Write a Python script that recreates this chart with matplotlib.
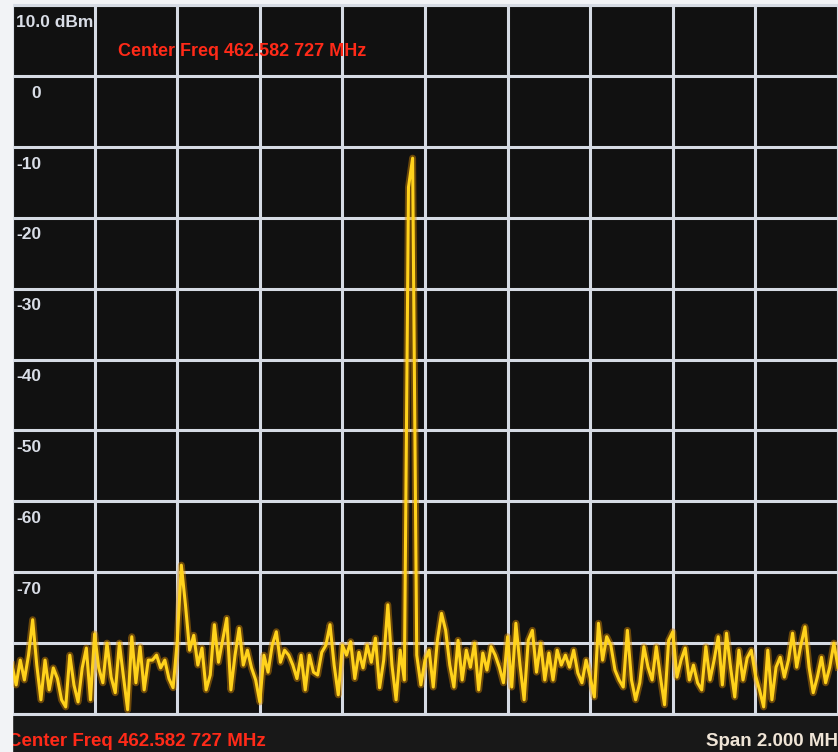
import numpy as np
import matplotlib
matplotlib.use("Agg")
from matplotlib import pyplot as plt
from matplotlib.patches import Rectangle

# analyzer settings
center_label = "Center Freq 462.582 727 MHz"
span_label = "Span 2.000 MHz"
ref_level = 10.0      # dBm, top of screen
db_per_div = 10.0
span_khz = 2000.0

# trace, dBm, one sample every 10 kHz from -1 MHz to +1 MHz
trace_dbm = [
    -83.1, -85.9, -82.4, -85.2, -81.7, -76.7, -83.1, -88.0, -82.4, -86.6,
    -83.5, -85.0, -88.0, -89.0, -81.7, -85.9, -88.3, -83.5, -80.7, -88.0,
    -78.7, -83.5, -85.6, -80.0, -84.8, -87.0, -80.0, -84.8, -89.4, -79.1,
    -85.6, -80.5, -86.6, -82.4, -82.4, -81.7, -83.5, -82.4, -85.0, -86.3,
    -79.8, -69.0, -74.6, -81.0, -78.9, -83.1, -80.7, -86.6, -84.5, -77.4,
    -82.7, -79.6, -76.5, -86.6, -81.7, -77.9, -83.1, -81.0, -83.5, -85.2,
    -88.3, -81.7, -84.1, -80.3, -78.4, -82.7, -81.0, -81.7, -83.1, -85.0,
    -81.7, -86.6, -81.7, -84.1, -84.5, -81.3, -80.3, -77.4, -83.1, -87.3,
    -80.3, -81.7, -79.8, -85.0, -81.3, -83.5, -80.3, -82.7, -79.3, -86.3,
    -82.4, -74.6, -83.1, -88.0, -81.0, -85.2, -15.7, -11.6, -81.7, -85.9,
    -82.4, -81.0, -86.2, -79.6, -75.8, -78.2, -83.1, -86.2, -79.6, -85.2,
    -81.0, -83.4, -80.0, -86.6, -81.4, -83.8, -80.5, -81.7, -83.4, -85.6,
    -79.1, -86.2, -77.2, -83.1, -88.0, -79.6, -78.2, -84.1, -80.0, -85.2,
    -81.4, -85.2, -81.0, -83.1, -81.7, -83.4, -81.0, -84.2, -85.6, -82.4,
    -84.8, -87.6, -77.2, -82.4, -79.1, -80.3, -83.8, -85.2, -86.2, -78.2,
    -85.2, -88.0, -85.6, -80.5, -83.4, -85.2, -80.5, -84.8, -88.7, -79.6,
    -78.4, -84.8, -82.4, -80.7, -85.2, -83.1, -85.6, -86.6, -80.5, -85.2,
    -82.4, -79.1, -85.9, -78.6, -83.5, -87.6, -81.0, -85.2, -82.1, -81.0,
    -84.5, -86.6, -89.0, -81.0, -88.0, -83.4, -82.0, -84.8, -82.4, -78.6,
    -83.4, -80.3, -77.7, -83.4, -87.0, -84.8, -82.0, -85.6, -83.4, -80.0,
    -83.4,
]

level_labels = ["10.0 dBm", "0", "-10", "-20", "-30", "-40", "-50", "-60", "-70"]

W, H = 838, 752
SCREEN = "#111111"
GRID = "#d6dbe4"
FRAME = "#f2f3f6"


def main():
    freqs = np.linspace(-span_khz / 2, span_khz / 2, len(trace_dbm))
    bottom_level = ref_level - 10 * db_per_div

    plt.rcParams["font.family"] = ["Liberation Sans", "DejaVu Sans"]
    fig = plt.figure(figsize=(W / 100, H / 100), dpi=100, facecolor=FRAME)

    # status bar under the graticule
    fig.add_artist(Rectangle((12 / W, 0), 1, 38 / H, transform=fig.transFigure,
                             color="#181818", zorder=0))

    ax = fig.add_axes([12 / W, 38 / H, 826 / W, 709 / H], facecolor=SCREEN)
    ax.set_xlim(-span_khz / 2, span_khz / 2)
    ax.set_ylim(bottom_level, ref_level)
    ax.set_xticks(np.linspace(-span_khz / 2, span_khz / 2, 11))
    ax.set_yticks(np.arange(bottom_level, ref_level + 1, db_per_div))
    ax.tick_params(length=0, labelbottom=False, labelleft=False)
    ax.grid(True, color=GRID, linewidth=2.2)
    ax.set_axisbelow(True)
    for sp in ax.spines.values():
        sp.set_color(GRID)
        sp.set_linewidth(2.2)

    # trace with a bit of glow
    ax.plot(freqs, trace_dbm, color="#d98a00", lw=5, alpha=0.45, zorder=3)
    ax.plot(freqs, trace_dbm, color="#ffd21c", lw=2.2, zorder=4)

    # level labels just under each graticule line
    for i, lab in enumerate(level_labels):
        lev = ref_level - i * db_per_div
        dx = 14 if lab == "0" else 3
        ax.annotate(lab, xy=(0, lev), xycoords=("axes fraction", "data"),
                    xytext=(dx, -7), textcoords="offset points",
                    va="top", ha="left", color="#d9dde6",
                    fontsize=12.5, fontweight="bold", zorder=5)

    ax.text(0.128, 0.934, center_label, transform=ax.transAxes,
            color="#ff2a18", fontsize=13, fontweight="bold",
            va="center", ha="left", zorder=5)

    fig.text(8 / W, 11 / H, center_label, color="#ff2a18", fontsize=13.5,
             fontweight="bold", va="center", ha="left", zorder=3)
    fig.text(706 / W, 11 / H, span_label, color="#efe4d6", fontsize=13.5,
             fontweight="bold", va="center", ha="left", zorder=3)

    # light bezel strip on the left edge
    fig.add_artist(Rectangle((0, 0), 12 / W, 1, transform=fig.transFigure,
                             color=FRAME, zorder=10))

    fig.savefig("out.png", dpi=100, facecolor=FRAME)


if __name__ == "__main__":
    main()
